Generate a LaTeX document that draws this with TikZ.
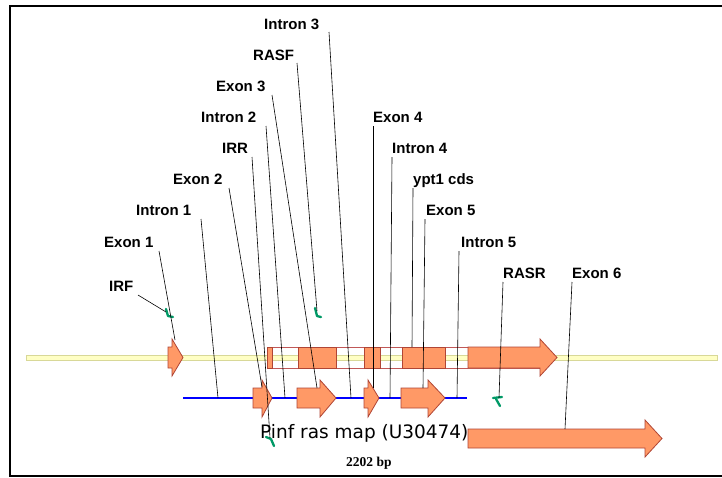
\documentclass[tikz,border=0pt]{standalone}
\usepackage{fontspec}
\setmainfont{Liberation Sans}
\newfontfamily\titlefont{DejaVu Sans}
\newfontfamily\bpfont{Liberation Serif}
\definecolor{exonfill}{HTML}{FF9966}
\definecolor{exonedge}{HTML}{B04535}
\definecolor{boxedge}{HTML}{C05858}
\definecolor{genfill}{HTML}{FFFFC4}
\definecolor{genedge}{HTML}{D8D898}
\definecolor{primergreen}{HTML}{009966}
\begin{document}
\begin{tikzpicture}[x=1pt,y=-1pt,
  lbl/.style={font=\bfseries\fontsize{15}{18}\selectfont, anchor=base west, inner sep=0pt},
  leader/.style={draw=black, line width=0.6pt},
  exon/.style={fill=exonfill, draw=exonedge, line width=0.8pt, line join=miter},
  primer/.style={draw=primergreen, line width=2.3pt, line cap=round, line join=round}]
\useasboundingbox (0,0) rectangle (722,477);
% frame
\draw[line width=2pt] (722,6) -- (10,6) -- (10,476) -- (722,476);
% genome line
\draw[fill=genfill, draw=genedge, line width=0.8pt] (26,355) rectangle (717,360);
% exon 1 on genome line
\draw[exon] (168,347) -- (172,347) -- (172,339) -- (183,357.5) -- (172,376) -- (172,368) -- (168,368) -- cycle;
% transcript box
\draw[draw=boxedge, line width=1pt] (267,347) rectangle (540,368);
\draw[exon] (267,347) rectangle (272,368);
\draw[exon] (298,347) rectangle (336,368);
\draw[exon] (364,347) rectangle (380,368);
\draw[exon] (402,347) rectangle (445,368);
\draw[exon] (468,347) -- (540,347) -- (540,339) -- (557,357.5) -- (540,376) -- (540,368) -- (468,368) -- cycle;
% intron (blue) line
\draw[blue, line width=1.1pt] (183,398) -- (467,398);
% title
\node[font=\titlefont\fontsize{18.5}{22}\selectfont, anchor=base west, inner sep=0pt] (title) at (260,438) {Pinf ras map (U30474)};
\node[font=\bpfont\bfseries\fontsize{13.5}{15}\selectfont, anchor=base west, inner sep=0pt] (bp) at (346,466) {2202 bp};
% exons on blue line
\draw[exon] (253,388) -- (262,388) -- (262,380) -- (272,398) -- (262,417) -- (262,408) -- (253,408) -- cycle;
\draw[exon] (297,388) -- (320,388) -- (320,380) -- (336,398) -- (320,417) -- (320,408) -- (297,408) -- cycle;
\draw[exon] (364,388) -- (368,388) -- (368,380) -- (379,398) -- (368,417) -- (368,408) -- (364,408) -- cycle;
\draw[exon] (401,388) -- (428,388) -- (428,380) -- (445,398) -- (428,417) -- (428,408) -- (401,408) -- cycle;
\draw[exon] (468,429) -- (645,429) -- (645,420) -- (662,438.5) -- (645,457) -- (645,448) -- (468,448) -- cycle;
% primers
\draw[primer] (166,309) -- (168,316) -- (173,317);
\draw[primer] (315,308) -- (317,316) -- (321,317);
\draw[primer] (266,437) -- (271,439) -- (274,446);
\draw[primer] (493,398) -- (502,397);
\draw[primer] (496,399) -- (500,406);
% labels
\node[lbl] (lI3) at (264,29) {Intron 3};
\node[lbl] (lRASF) at (253,60) {RASF};
\node[lbl] (lE3) at (216,91) {Exon 3};
\node[lbl] (lI2) at (201,122) {Intron 2};
\node[lbl] (lIRR) at (222,153) {IRR};
\node[lbl] (lE2) at (173,184) {Exon 2};
\node[lbl] (lI1) at (136,215) {Intron 1};
\node[lbl] (lE1) at (104,247) {Exon 1};
\node[lbl] (lIRF) at (109,291) {IRF};
\node[lbl] (lE4) at (373,122) {Exon 4};
\node[lbl] (lI4) at (392,153) {Intron 4};
\node[lbl] (lypt) at (413,184) {ypt1 cds};
\node[lbl] (lE5) at (426,215) {Exon 5};
\node[lbl] (lI5) at (461,247) {Intron 5};
\node[lbl] (lRASR) at (503,278) {RASR};
\node[lbl] (lE6) at (572,278) {Exon 6};
% leader start / end points
\coordinate (sI3) at (329,32);   \coordinate (eI3) at (351,398);
\coordinate (sRASF) at (297,63); \coordinate (eRASF) at (317,311);
\coordinate (sE3) at (272,95);   \coordinate (eE3) at (317,388);
\coordinate (sI2) at (266,126);  \coordinate (eI2) at (285,398);
\coordinate (sIRR) at (252,157); \coordinate (eIRR) at (270,438);
\coordinate (sE2) at (229,188);  \coordinate (eE2) at (262,387);
\coordinate (sI1) at (201,219);  \coordinate (eI1) at (218,398);
\coordinate (sE1) at (159,251);  \coordinate (eE1) at (175,340);
\coordinate (sIRF) at (138,295); \coordinate (eIRF) at (166,312);
\coordinate (sE4) at (373,126);  \coordinate (eE4) at (373,388);
\coordinate (sI4) at (392,157);  \coordinate (eI4) at (390,398);
\coordinate (sypt) at (413,188); \coordinate (eypt) at (412,347);
\coordinate (sE5) at (425,219);  \coordinate (eE5) at (423,388);
\coordinate (sI5) at (459,251);  \coordinate (eI5) at (457,398);
\coordinate (sRASR) at (503,282);\coordinate (eRASR) at (499,398);
\coordinate (sE6) at (572,282);  \coordinate (eE6) at (565,429);
\foreach \n in {I3,RASF,E3,I2,IRR,E2,I1,E1,IRF,E4,I4,ypt,E5,I5,RASR,E6}
  \draw[leader] (s\n) -- (e\n);
\end{tikzpicture}
\end{document}
